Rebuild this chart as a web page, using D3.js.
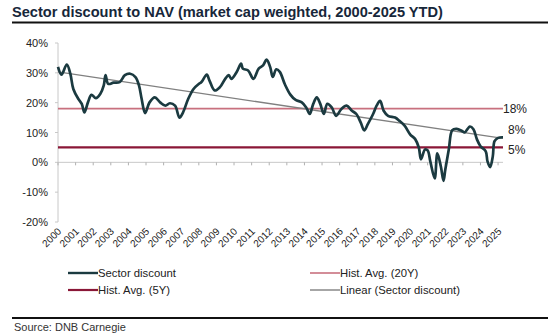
<!DOCTYPE html>
<html>
<head>
<meta charset="utf-8">
<script src="https://cdn.jsdelivr.net/npm/d3@7"></script>
<style>
  body { margin: 0; background: #fff; }
  svg { display: block; font-family: "Liberation Sans", Arial, sans-serif; }
</style>
</head>
<body>
<svg id="chart" width="548" height="336"></svg>
<script>
// sector discount to NAV, [year, %]
const discount = [
  [2000.0, 32.0], [2000.2, 29.4], [2000.5, 32.8], [2000.7, 29.7], [2000.87, 24.6],
  [2001.15, 21.3], [2001.35, 19.6], [2001.5, 16.7], [2001.7, 20.1], [2001.9, 22.6],
  [2002.15, 21.5], [2002.4, 22.9], [2002.6, 25.8], [2002.7, 29.2], [2002.85, 26.3],
  [2003.15, 26.7], [2003.5, 26.9], [2003.8, 29.2], [2004.1, 29.7], [2004.4, 28.6],
  [2004.6, 25.8], [2004.75, 21.3], [2004.95, 16.5], [2005.2, 20.1], [2005.5, 21.8],
  [2005.8, 20.1], [2006.1, 19.0], [2006.35, 19.8], [2006.65, 19.0], [2006.9, 15.0],
  [2007.1, 16.7], [2007.4, 21.3], [2007.7, 24.6], [2008.0, 26.3], [2008.15, 26.9],
  [2008.45, 29.4], [2008.6, 27.5], [2008.9, 24.1], [2009.2, 25.2], [2009.5, 28.0],
  [2009.7, 29.2], [2009.85, 28.0], [2010.15, 30.3], [2010.4, 33.1], [2010.5, 31.4],
  [2010.8, 30.8], [2011.1, 28.0], [2011.4, 31.4], [2011.65, 32.5], [2011.85, 34.4],
  [2012.05, 32.0], [2012.2, 28.6], [2012.4, 31.2], [2012.6, 30.3], [2012.9, 26.0],
  [2013.2, 22.7], [2013.5, 20.9], [2013.85, 20.1], [2014.1, 18.4], [2014.3, 16.2],
  [2014.5, 19.6], [2014.7, 21.8], [2014.9, 19.6], [2015.1, 16.2], [2015.3, 19.6],
  [2015.55, 18.4], [2015.8, 15.6], [2016.1, 17.9], [2016.4, 19.0], [2016.7, 17.3],
  [2016.95, 16.2], [2017.2, 13.3], [2017.4, 10.7], [2017.6, 12.8], [2017.9, 16.2],
  [2018.1, 19.0], [2018.3, 20.6], [2018.5, 17.3], [2018.75, 15.6], [2019.15, 15.0],
  [2019.4, 13.9], [2019.7, 12.2], [2020.0, 9.4], [2020.3, 7.7], [2020.5, 4.9],
  [2020.62, 1.0], [2020.85, 4.3], [2021.0, 4.0], [2021.15, 0.3], [2021.4, -5.4],
  [2021.55, 3.0], [2021.75, -1.4], [2021.9, -6.2], [2022.0, -2.5], [2022.2, 4.3],
  [2022.4, 10.8], [2022.65, 11.2], [2022.95, 10.5], [2023.1, 10.0], [2023.4, 12.0],
  [2023.6, 11.1], [2023.8, 7.7], [2024.0, 5.4], [2024.3, 3.7], [2024.4, 0.3],
  [2024.55, -1.6], [2024.7, 2.0], [2024.8, 7.1], [2025.0, 8.2], [2025.28, 8.4]
];

const trend = [[2000, 30.3], [2025.28, 8.0]];   // linear fit of the discount
const hist20Y = 18;
const hist5Y = 5;

const yearLabels = d3.range(2000, 2026).map(String);
const yTicks = [-20, -10, 0, 10, 20, 30, 40];
// right-hand labels; `at` is where the text sits on the value scale
const endLabels = [
  { text: '18%', at: 18, dx: 0 },
  { text: '8%', at: 11, dx: 5 },
  { text: '5%', at: 4.3, dx: 5 }
];
const legendItems = [
  { name: 'Sector discount', color: '#1b3a40', width: 2.4 },
  { name: 'Hist. Avg. (20Y)', color: '#c8707e', width: 1.6 },
  { name: 'Hist. Avg. (5Y)', color: '#8a1737', width: 2.2 },
  { name: 'Linear (Sector discount)', color: '#808080', width: 1.4 }
];

const svg = d3.select('#chart');

const x = d3.scaleLinear().domain([2000, 2025.28]).range([58, 503]);
const y = d3.scaleLinear().domain([-20, 40]).range([222, 43]);

// title + rule
svg.append('text')
  .attr('x', 12).attr('y', 17)
  .attr('font-size', 14.6).attr('font-weight', 'bold')
  .attr('fill', '#17273a')
  .text('Sector discount to NAV (market cap weighted, 2000-2025 YTD)');
svg.append('line')
  .attr('x1', 12).attr('x2', 548).attr('y1', 22.5).attr('y2', 22.5)
  .attr('stroke', '#111').attr('stroke-width', 2);

// y axis
svg.append('line')
  .attr('x1', x(2000)).attr('x2', x(2000))
  .attr('y1', y(40)).attr('y2', y(-20))
  .attr('stroke', '#c8c8c8').attr('stroke-width', 1);
yTicks.forEach(t => {
  svg.append('line')
    .attr('x1', x(2000) - 3).attr('x2', x(2000))
    .attr('y1', y(t)).attr('y2', y(t))
    .attr('stroke', '#c8c8c8');
  svg.append('text')
    .attr('x', 48).attr('y', y(t) + 4)
    .attr('text-anchor', 'end')
    .attr('font-size', 11).attr('fill', '#222')
    .text(t + '%');
});

// x axis on the zero line
svg.append('line')
  .attr('x1', x(2000)).attr('x2', x(2025.28))
  .attr('y1', y(0)).attr('y2', y(0))
  .attr('stroke', '#c8c8c8');
yearLabels.forEach(lbl => {
  const px = x(+lbl);
  svg.append('line')
    .attr('x1', px).attr('x2', px)
    .attr('y1', y(0)).attr('y2', y(0) + 3)
    .attr('stroke', '#b0b0b0');
  svg.append('text')
    .attr('transform', `translate(${px + 4},${232}) rotate(-45)`)
    .attr('text-anchor', 'end')
    .attr('font-size', 10).attr('fill', '#222')
    .text(lbl);
});

// historical averages
svg.append('line')
  .attr('x1', x(2000)).attr('x2', x(2025.28))
  .attr('y1', y(hist20Y)).attr('y2', y(hist20Y))
  .attr('stroke', '#c8707e').attr('stroke-width', 1.6);
svg.append('line')
  .attr('x1', x(2000)).attr('x2', x(2025.28))
  .attr('y1', y(hist5Y)).attr('y2', y(hist5Y))
  .attr('stroke', '#8a1737').attr('stroke-width', 2.2);

// trend
svg.append('path')
  .attr('d', d3.line().x(d => x(d[0])).y(d => y(d[1]))(trend))
  .attr('fill', 'none')
  .attr('stroke', '#808080').attr('stroke-width', 1.3);

// discount series
svg.append('path')
  .attr('d', d3.line()
    .x(d => x(d[0])).y(d => y(d[1]))
    .curve(d3.curveCatmullRom.alpha(0.5))(discount))
  .attr('fill', 'none')
  .attr('stroke', '#1b3a40').attr('stroke-width', 2.7)
  .attr('stroke-linejoin', 'round');

// end labels
endLabels.forEach(d => {
  svg.append('text')
    .attr('x', x(2025.28) + d.dx).attr('y', y(d.at) + 4.5)
    .attr('font-size', 12).attr('fill', '#222')
    .text(d.text);
});

// legend
legendItems.forEach((d, i) => {
  const lx = i % 2 === 0 ? 68 : 310;
  const ly = i < 2 ? 273 : 290;
  svg.append('line')
    .attr('x1', lx).attr('x2', lx + 30)
    .attr('y1', ly).attr('y2', ly)
    .attr('stroke', d.color).attr('stroke-width', d.width);
  svg.append('text')
    .attr('x', lx + 30).attr('y', ly + 4)
    .attr('font-size', 11.3).attr('fill', '#222')
    .text(d.name);
});

// footer
svg.append('line')
  .attr('x1', 12).attr('x2', 548).attr('y1', 318).attr('y2', 318)
  .attr('stroke', '#111').attr('stroke-width', 2);
svg.append('text')
  .attr('x', 14).attr('y', 331)
  .attr('font-size', 11).attr('fill', '#333')
  .text('Source: DNB Carnegie');
</script>
</body>
</html>
